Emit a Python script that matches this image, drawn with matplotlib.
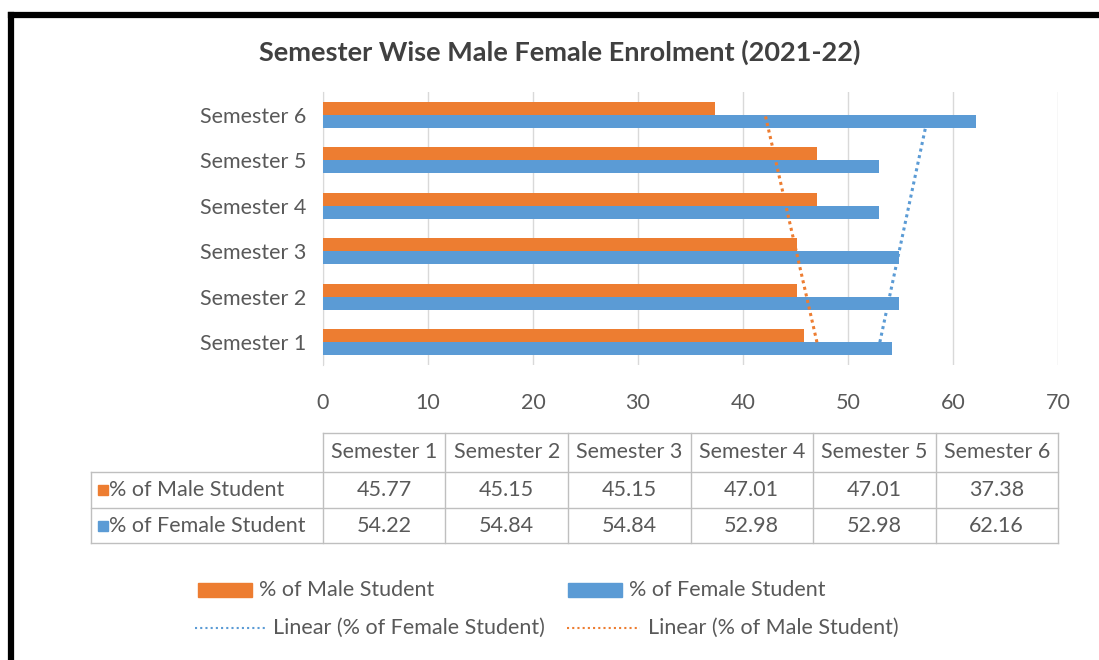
import numpy as np
import matplotlib.pyplot as plt
from matplotlib.patches import Rectangle
from matplotlib.lines import Line2D

semesters = ['Semester 1', 'Semester 2', 'Semester 3', 'Semester 4', 'Semester 5', 'Semester 6']
male = [45.77, 45.15, 45.15, 47.01, 47.01, 37.38]
female = [54.22, 54.84, 54.84, 52.98, 52.98, 62.16]
male_label = '% of Male Student'
female_label = '% of Female Student'
title = 'Semester Wise Male Female Enrolment (2021-22)'

ORANGE = '#ED7D31'
BLUE = '#5B9BD5'
TXT = '#595959'
GRID = '#D9D9D9'
FS = 15.5

plt.rcParams['font.family'] = ['Lato', 'DejaVu Sans']

W, H = 1099, 660
fig = plt.figure(figsize=(W / 100, H / 100), dpi=100)


def fx(x):
    return x / W


def fy(y):
    return 1 - y / H


# black frame (top and left only)
fig.add_artist(Line2D([fx(11), 1], [fy(15), fy(15)], color='black', lw=4.5))
fig.add_artist(Line2D([fx(11), fx(11)], [fy(15), 0], color='black', lw=4.5))

fig.text(fx(560), fy(52), title, ha='center', va='center', fontsize=19.5,
         fontweight='bold', color='#404040')

ax = fig.add_axes([fx(323), fy(365), fx(1058) - fx(323), fy(92) - fy(365)])
y = np.arange(len(semesters))
h = 0.29
ax.barh(y + h / 2, male, height=h, color=ORANGE, zorder=3)
ax.barh(y - h / 2, female, height=h, color=BLUE, zorder=3)

# linear trendlines
for vals, col in ((female, BLUE), (male, ORANGE)):
    k, b = np.polyfit(y, vals, 1)
    ax.plot(k * y[[0, -1]] + b, y[[0, -1]], ls=(0, (1, 1.2)), lw=2.2, color=col, zorder=4)

ax.set_xlim(0, 70)
ax.set_ylim(-0.5, len(semesters) - 0.5)
ax.set_xticks(np.arange(0, 71, 10))
ax.set_yticks(y)
ax.set_yticklabels(semesters)
ax.grid(axis='x', color=GRID, lw=1, zorder=0)
for s in ('top', 'right', 'bottom'):
    ax.spines[s].set_visible(False)
ax.spines['left'].set_color(GRID)
ax.tick_params(axis='both', length=0, colors=TXT, labelsize=FS)
ax.tick_params(axis='x', pad=20)
ax.tick_params(axis='y', pad=12)

# data table
col_edges = np.linspace(323, 1058, len(semesters) + 1)
row_edges = [433, 472, 508, 543]
left = 91
lc = '#BFBFBF'
fig.add_artist(Line2D([fx(col_edges[0]), fx(col_edges[-1])], [fy(row_edges[0])] * 2, color=lc, lw=1))
for ry in row_edges[1:]:
    fig.add_artist(Line2D([fx(left), fx(col_edges[-1])], [fy(ry)] * 2, color=lc, lw=1))
fig.add_artist(Line2D([fx(left)] * 2, [fy(row_edges[1]), fy(row_edges[-1])], color=lc, lw=1))
for cx in col_edges:
    fig.add_artist(Line2D([fx(cx)] * 2, [fy(row_edges[0]), fy(row_edges[-1])], color=lc, lw=1))

for i, sem in enumerate(semesters):
    cx = (col_edges[i] + col_edges[i + 1]) / 2
    fig.text(fx(cx), fy((row_edges[0] + row_edges[1]) / 2), sem, ha='center', va='center',
             fontsize=FS, color=TXT)
    fig.text(fx(cx), fy((row_edges[1] + row_edges[2]) / 2), '%.2f' % male[i], ha='center',
             va='center', fontsize=FS, color=TXT)
    fig.text(fx(cx), fy((row_edges[2] + row_edges[3]) / 2), '%.2f' % female[i], ha='center',
             va='center', fontsize=FS, color=TXT)

for r, (lab, col) in enumerate(((male_label, ORANGE), (female_label, BLUE))):
    cy = (row_edges[r + 1] + row_edges[r + 2]) / 2
    fig.add_artist(Rectangle((fx(98), fy(cy + 5)), fx(10), fy(0) - fy(10), color=col))
    fig.text(fx(109), fy(cy), lab, ha='left', va='center', fontsize=FS, color=TXT)

# legend
fig.add_artist(Rectangle((fx(198), fy(597)), fx(54), fy(0) - fy(14), color=ORANGE))
fig.text(fx(259), fy(590), male_label, ha='left', va='center', fontsize=FS, color=TXT)
fig.add_artist(Rectangle((fx(568), fy(597)), fx(54), fy(0) - fy(14), color=BLUE))
fig.text(fx(629), fy(590), female_label, ha='left', va='center', fontsize=FS, color=TXT)
fig.add_artist(Line2D([fx(195), fx(265)], [fy(628)] * 2, color=BLUE, lw=1.5, ls=(0, (1, 1.5))))
fig.text(fx(273), fy(628), 'Linear (' + female_label + ')', ha='left', va='center',
         fontsize=FS, color=TXT)
fig.add_artist(Line2D([fx(567), fx(640)], [fy(628)] * 2, color=ORANGE, lw=1.5, ls=(0, (1, 1.5))))
fig.text(fx(648), fy(628), 'Linear (' + male_label + ')', ha='left', va='center',
         fontsize=FS, color=TXT)

fig.savefig('out.png', dpi=100)
